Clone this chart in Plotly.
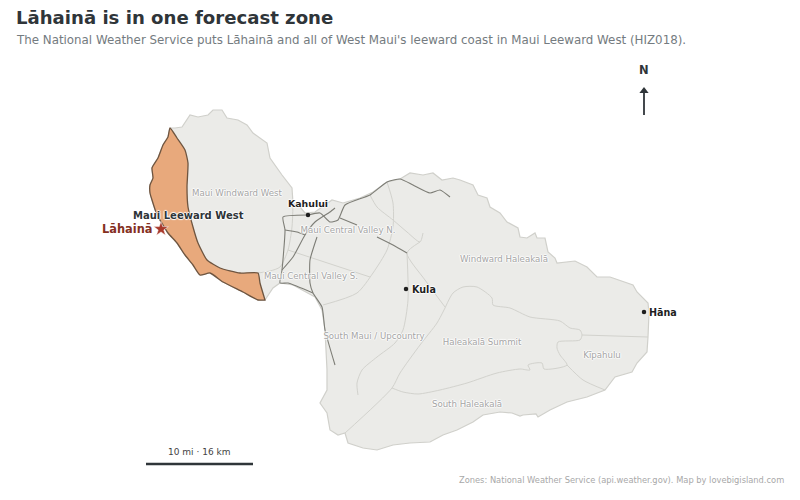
import plotly.graph_objects as go

# map outlines (x, y in picture units)
west_coast_x = [170, 168, 163, 158, 152, 153, 150, 150, 152, 157, 163, 168, 177, 185, 193, 200, 210, 223, 243, 258, 265]
west_coast_y = [128, 137, 145, 158, 168, 178, 185, 193, 200, 215, 225, 233, 243, 255, 265, 275, 273, 282, 292, 300, 300]
leeward_border_x = [265, 260, 258, 240, 220, 207, 198, 193, 188, 187, 188, 185, 177, 170]
leeward_border_y = [300, 283, 273, 273, 268, 260, 243, 227, 207, 187, 163, 150, 138, 128]
north_coast_x = [170, 175, 182, 188, 190, 198, 208, 213, 222, 227, 238, 247, 253, 267, 268, 270, 282, 292, 293, 300, 305,
                 315, 332, 343, 360, 373, 387, 400, 410, 423, 433, 442, 453, 460, 473, 478, 487, 490, 500, 507, 518, 520,
                 527, 535, 537, 545, 548, 555, 557, 575, 587, 597, 610, 633, 637, 648, 649, 648]
north_coast_y = [128, 128, 127, 118, 115, 117, 115, 110, 110, 118, 120, 125, 133, 143, 150, 158, 175, 188, 203, 207, 213,
                 212, 200, 203, 198, 192, 182, 179, 173, 175, 173, 180, 178, 180, 185, 195, 198, 207, 213, 222, 228, 237,
                 238, 233, 238, 238, 252, 258, 263, 261, 267, 277, 277, 285, 292, 303, 313, 337]
south_coast_x = [648, 647, 637, 632, 615, 605, 587, 567, 550, 538, 536, 523, 520, 512, 500, 483, 473, 457, 443, 430, 410,
                 393, 377, 363, 348, 345, 338, 330, 327, 320, 327, 327, 325, 322, 315, 293, 280, 273, 265]
south_coast_y = [337, 352, 363, 372, 377, 390, 397, 402, 410, 417, 414, 415, 416, 413, 412, 415, 422, 430, 435, 442, 443,
                 445, 450, 448, 443, 433, 435, 430, 413, 403, 390, 370, 330, 310, 297, 285, 283, 288, 300]

# zone boundaries
boundaries = {
    "windward_west": ([258, 270, 280, 288, 292, 293], [273, 271, 267, 250, 227, 203]),
    "valley_split": ([288, 370], [250, 277]),
    "valley_arc": ([387, 393, 393, 387, 373, 357, 323], [182, 203, 227, 250, 273, 293, 305]),
    "valley_north": ([370, 377, 393, 407, 420, 423], [195, 207, 220, 232, 242, 233]),
    "valley_east": ([420, 407, 425, 445], [242, 253, 280, 307]),
    "upcountry": ([407, 408, 403, 395, 377, 362, 357, 358], [253, 300, 330, 343, 357, 370, 383, 395]),
    "south_split": ([445, 437, 420, 400, 392, 345], [308, 323, 345, 373, 388, 433]),
    "summit": ([445, 453, 463, 477, 492, 493, 510, 530, 560, 570, 580, 582, 580, 558, 557, 560, 567, 544, 542, 528, 530,
                520, 497, 467, 440, 418, 403, 392],
               [308, 293, 287, 287, 298, 305, 308, 317, 321, 328, 330, 335, 340, 342, 348, 355, 365, 369, 363, 365, 370,
                369, 373, 383, 390, 394, 392, 388]),
    "kipahulu_north": ([582, 648], [335, 337]),
    "kipahulu_south": ([567, 583, 605], [365, 380, 390]),
}

# roads
roads = {
    "hana_hwy": ([308, 320, 330, 338, 345, 370, 387, 400, 413, 430, 440, 450], [215, 213, 222, 220, 205, 195, 182, 179, 185, 193, 190, 197]),
    "kuihelani": ([307, 283, 285, 282, 280, 288, 313], [215, 217, 230, 270, 283, 283, 293]),
    "dairy": ([282, 293, 305, 315, 330, 335], [270, 257, 235, 222, 212, 208]),
    "mokulele": ([317, 310, 310, 313, 322, 325, 335], [237, 260, 283, 293, 307, 330, 365]),
    "haleakala_low": ([340, 357], [218, 225]),
    "haleakala_up": ([377, 393, 407], [237, 245, 253]),
    "upper_link": ([285, 297, 305], [230, 232, 235]),
}

# places
zone_names = ["Maui Windward West", "Maui Central Valley N.", "Maui Central Valley S.", "South Maui / Upcountry",
              "Windward Haleakalā", "Haleakalā Summit", "South Haleakalā", "Kīpahulu"]
zone_x = [237, 348, 311, 374, 504, 482, 467, 602]
zone_y = [194, 231, 277, 337, 260, 343, 405, 356]
town_names = ["Kahului", "Kula", "Hāna"]
town_x = [308, 406, 644]
town_y = [215, 289, 312]

LAND = "#ebebe8"
EDGE = "#d0d0cb"
DARK = "#2f3539"
HALO = "1px 0 1px #fff, -1px 0 1px #fff, 0 1px 1px #fff, 0 -1px 1px #fff"
FONT = "DejaVu Sans"

fig = go.Figure()

# whole island first, then the leeward zone on top
land_x = west_coast_x + south_coast_x[::-1] + north_coast_x[::-1]
land_y = west_coast_y + south_coast_y[::-1] + north_coast_y[::-1]
fig.add_trace(go.Scatter(x=land_x, y=land_y, mode="lines", fill="toself", fillcolor=LAND,
                         line=dict(color=EDGE, width=1.2)))

for name, (xs, ys) in boundaries.items():
    fig.add_trace(go.Scatter(x=xs, y=ys, mode="lines", line=dict(color="#d2d2cd", width=1, shape="spline", smoothing=0.7)))

for name, (xs, ys) in roads.items():
    fig.add_trace(go.Scatter(x=xs, y=ys, mode="lines", line=dict(color="#7d7d76", width=1.1, shape="spline", smoothing=0.5)))

fig.add_trace(go.Scatter(x=west_coast_x + leeward_border_x, y=west_coast_y + leeward_border_y, mode="lines",
                         fill="toself", fillcolor="#e8a97c",
                         line=dict(color="#6e5540", width=1.3, shape="spline", smoothing=0.5)))

fig.add_trace(go.Scatter(x=zone_x, y=zone_y, mode="text", text=zone_names,
                         textfont=dict(family=FONT, size=8.6, color="#a5a5a5", shadow=HALO)))

fig.add_trace(go.Scatter(x=town_x, y=town_y, mode="markers", marker=dict(color="#1f1f1f", size=4.5)))
fig.add_trace(go.Scatter(x=[161], y=[229], mode="markers",
                         marker=dict(symbol="star", color="#a8392b", size=11, line=dict(color="white", width=0.5))))

# scale bar and north arrow
fig.add_trace(go.Scatter(x=[146, 253], y=[464, 464], mode="lines", line=dict(color=DARK, width=2.6)))
fig.add_trace(go.Scatter(x=[644, 644], y=[115, 92], mode="lines", line=dict(color=DARK, width=1.8)))
fig.add_trace(go.Scatter(x=[644], y=[91], mode="markers",
                         marker=dict(symbol="triangle-up", color=DARK, size=8)))


def label(text, x, y, size, color, anchor="left", bold=False):
    fig.add_annotation(x=x, y=y, text=f"<b>{text}</b>" if bold else text, showarrow=False,
                       xanchor=anchor, yanchor="middle", xref="x", yref="y", borderpad=0, borderwidth=0,
                       font=dict(family=FONT, size=size, color=color, shadow=HALO))


label("Lāhainā is in one forecast zone", 16, 17, 18.1, DARK, bold=True)
label("The National Weather Service puts Lāhainā and all of West Maui's leeward coast in Maui Leeward West (HIZ018).",
      16, 40, 11.85, "#747b80")
label("Maui Leeward West", 188, 215, 10, DARK, anchor="center", bold=True)
label("Lāhainā", 152, 229, 11.4, "#85301f", anchor="right", bold=True)
label(town_names[0], 308, 203, 9.4, "#1f1f1f", anchor="center", bold=True)
label(town_names[1], 412, 289, 9.6, "#1f1f1f", bold=True)
label(town_names[2], 649, 312, 9.6, "#1f1f1f", bold=True)
label("10 mi · 16 km", 199, 452, 9, "#444444", anchor="center")
label("N", 644, 70, 11.5, DARK, anchor="center", bold=True)
label("Zones: National Weather Service (api.weather.gov). Map by lovebigisland.com", 784, 480, 8.3, "#a8a8a8", anchor="right")

# the page body sits 8px in, so the ranges start at 8 to keep picture units = pixels
fig.update_layout(width=800, height=500, margin=dict(l=0, r=0, t=0, b=0), showlegend=False,
                  plot_bgcolor="white", paper_bgcolor="white",
                  xaxis=dict(range=[8, 808], visible=False),
                  yaxis=dict(range=[508, 8], visible=False))

fig.write_html("out.html")
